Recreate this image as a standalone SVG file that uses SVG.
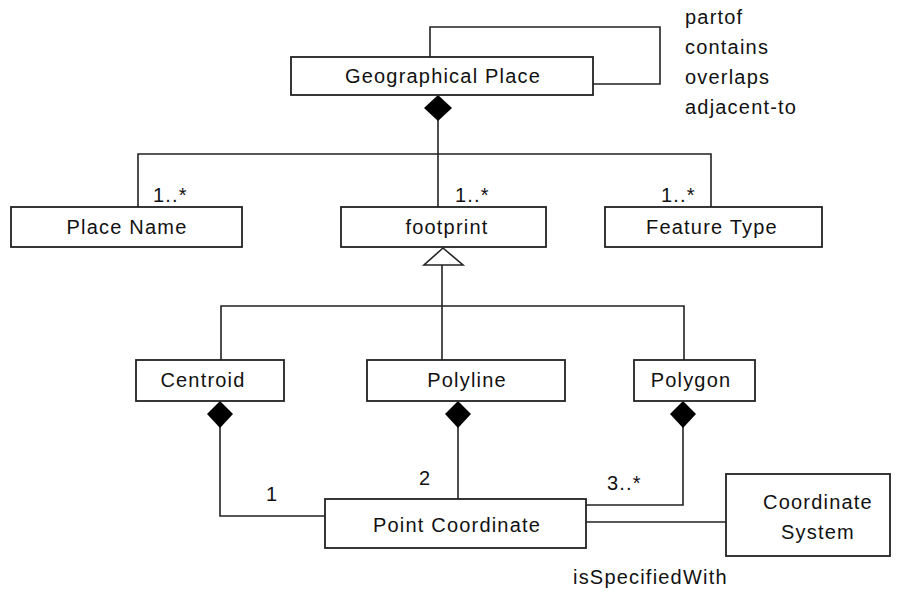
<svg xmlns="http://www.w3.org/2000/svg" width="902" height="592" viewBox="0 0 902 592">
<style>
.box{fill:#fff;stroke:#222;stroke-width:1.8}
.ln{fill:none;stroke:#222;stroke-width:1.6}
.dia{fill:#000;stroke:none}
.tri{fill:#fff;stroke:#222;stroke-width:1.6}
text{font-family:"Liberation Sans",Arial,sans-serif;font-size:20px;letter-spacing:1.2px;fill:#111}
.c{text-anchor:middle}
</style>
<rect width="902" height="592" fill="#fff"/>
<g id="connectors">
<polyline class="ln" points="430,57 430,27 660,27 660,84 593,84"/>
<line class="ln" x1="438" y1="120" x2="438" y2="207"/>
<polyline class="ln" points="138,207 138,154 711,154 711,207"/>
<line class="ln" x1="442" y1="265" x2="442" y2="360"/>
<polyline class="ln" points="221,360 221,306 684,306 684,360"/>
<polygon class="tri" points="443,248 463,265 424,265"/>
<polygon class="dia" points="438,95 452,108 438,121 424,108"/>
<polyline class="ln" points="220,427 220,516 325,516"/>
<polygon class="dia" points="220,401 233,414 220,428 207,414"/>
<line class="ln" x1="458" y1="427" x2="458" y2="499"/>
<polygon class="dia" points="458,401 471,414 458,428 445,414"/>
<polyline class="ln" points="683,427 683,505 586,505"/>
<polygon class="dia" points="683,401 696,414 683,428 670,414"/>
<line class="ln" x1="586" y1="522" x2="726" y2="522"/>
<text x="685" y="24">partof</text>
<text x="685" y="54">contains</text>
<text x="685" y="84">overlaps</text>
<text x="685" y="114">adjacent-to</text>
<text x="153" y="202">1..*</text>
<text x="455" y="202">1..*</text>
<text x="661" y="202">1..*</text>
<text x="266" y="501">1</text>
<text x="419" y="485">2</text>
<text x="607" y="490">3..*</text>
<text x="573" y="584">isSpecifiedWith</text>
</g>
<g id="geographical-place"><rect class="box" x="291" y="57" width="302" height="38"/><text class="c" x="443" y="83">Geographical Place</text></g>
<g id="place-name"><rect class="box" x="11" y="207" width="231" height="40"/><text class="c" x="127" y="234">Place Name</text></g>
<g id="footprint"><rect class="box" x="341" y="207" width="205" height="40"/><text class="c" x="447" y="234">footprint</text></g>
<g id="feature-type"><rect class="box" x="605" y="207" width="217" height="40"/><text class="c" x="712" y="234">Feature Type</text></g>
<g id="centroid"><rect class="box" x="136" y="360" width="148" height="41"/><text class="c" x="203" y="387">Centroid</text></g>
<g id="polyline"><rect class="box" x="367" y="360" width="198" height="41"/><text class="c" x="467" y="387">Polyline</text></g>
<g id="polygon"><rect class="box" x="634" y="360" width="121" height="41"/><text class="c" x="691" y="387">Polygon</text></g>
<g id="point-coordinate"><rect class="box" x="325" y="499" width="261" height="49"/><text class="c" x="457" y="532">Point Coordinate</text></g>
<g id="coordinate-system"><rect class="box" x="726" y="474" width="164" height="82"/><text class="c" x="818" y="509">Coordinate</text><text class="c" x="818" y="539">System</text></g>
</svg>
